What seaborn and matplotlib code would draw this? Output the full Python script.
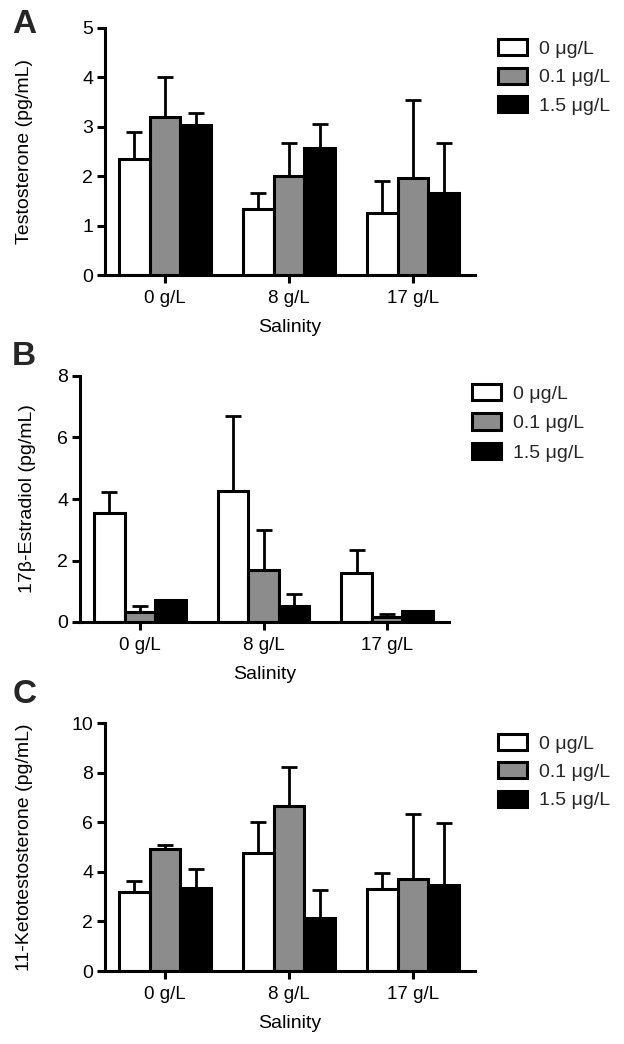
import numpy as np
import pandas as pd
import matplotlib
matplotlib.use('Agg')
import matplotlib.pyplot as plt
import seaborn as sns

# categories
salinity = ['0 g/L', '8 g/L', '17 g/L']
doses = ['0 μg/L', '0.1 μg/L', '1.5 μg/L']
bar_colors = ['white', '#8c8c8c', 'black']

# means (one row per dose, one column per salinity) and upper SEM
testo_mean = [[2.35, 1.33, 1.25], [3.20, 2.00, 1.97], [3.03, 2.57, 1.66]]
testo_sem = [[0.55, 0.32, 0.65], [0.80, 0.67, 1.57], [0.24, 0.49, 1.01]]

e2_mean = [[3.55, 4.25, 1.60], [0.33, 1.69, 0.15], [0.71, 0.52, 0.35]]
e2_sem = [[0.67, 2.45, 0.74], [0.19, 1.31, 0.11], [0.00, 0.38, 0.02]]

kt_mean = [[3.17, 4.75, 3.30], [4.91, 6.66, 3.70], [3.36, 2.13, 3.47]]
kt_sem = [[0.45, 1.24, 0.64], [0.19, 1.56, 2.64], [0.77, 1.14, 2.49]]

sns.set_theme(style="ticks")
plt.rcParams['font.family'] = ['Liberation Sans', 'DejaVu Sans']
plt.rcParams['axes.linewidth'] = 2.2

W, H = 624, 1044
fig = plt.figure(figsize=(W / 100, H / 100), dpi=100)


def make_df(means):
    rows = []
    for d, dose in enumerate(doses):
        for s, sal in enumerate(salinity):
            rows.append({'salinity': sal, 'dose': dose, 'value': means[d][s]})
    return pd.DataFrame(rows)


def panel(rect_px, means, sems, ylabel, ymax, ystep, letter, letter_px,
          label_x, legend_px, row_gap):
    left, right, top, bottom = rect_px
    ax = fig.add_axes([left / W, 1 - bottom / H, (right - left) / W, (bottom - top) / H])
    df = make_df(means)
    sns.barplot(data=df, x='salinity', y='value', hue='dose', hue_order=doses,
                palette=bar_colors, edgecolor='black', linewidth=2.2,
                width=0.74, errorbar=None, legend=False, ax=ax, zorder=2)
    bars = list(ax.containers)
    # one-sided error bars
    for d, cont in enumerate(bars):
        xs = [p.get_x() + p.get_width() / 2 for p in cont.patches]
        ys = [p.get_height() for p in cont.patches]
        ax.errorbar(xs, ys, yerr=[np.zeros(len(xs)), sems[d]], fmt='none',
                    ecolor='black', elinewidth=2, capsize=5.5, capthick=2, zorder=1)
    ax.set_xlim(-0.484, 2.5)
    ax.set_ylim(0, ymax)
    ax.set_yticks(np.arange(0, ymax + 0.01, ystep))
    sns.despine(ax=ax)
    ax.tick_params(axis='both', width=2.2, length=5.5, direction='out', colors='black')
    ax.tick_params(axis='y', labelsize=14, pad=3)
    ax.tick_params(axis='x', labelsize=13.5, pad=5)
    ax.set_xlabel('Salinity', fontsize=14, labelpad=9, color='black')
    ax.set_ylabel(ylabel, fontsize=14, color='black')
    ax.yaxis.set_label_coords(label_x, 0.5)
    for sp in ax.spines.values():
        sp.set_color('black')
    ax.legend(bars, doses, loc='upper left',
              bbox_to_anchor=(legend_px[0] / W, 1 - legend_px[1] / H),
              bbox_transform=fig.transFigure, frameon=False, fontsize=14,
              handlelength=1.5, handleheight=0.9, labelspacing=row_gap,
              handletextpad=0.6, borderpad=0, borderaxespad=0)
    fig.text(letter_px[0] / W, 1 - letter_px[1] / H, letter, fontsize=24,
             fontweight='bold', va='top', ha='left')
    return ax


panel((105, 475, 28, 275), testo_mean, testo_sem, 'Testosterone (pg/mL)', 5, 1,
      'A', (12, 9), -0.195, (498, 39), 0.5)
panel((80, 449, 376, 622), e2_mean, e2_sem, '17β-Estradiol (pg/mL)', 8, 2,
      'B', (12, 341), -0.12, (472, 384), 0.55)
panel((105, 475, 723, 971), kt_mean, kt_sem, '11-Ketotestosterone (pg/mL)', 10, 2,
      'C', (13, 679), -0.195, (498, 734), 0.49)

fig.savefig('out.png', dpi=100)
